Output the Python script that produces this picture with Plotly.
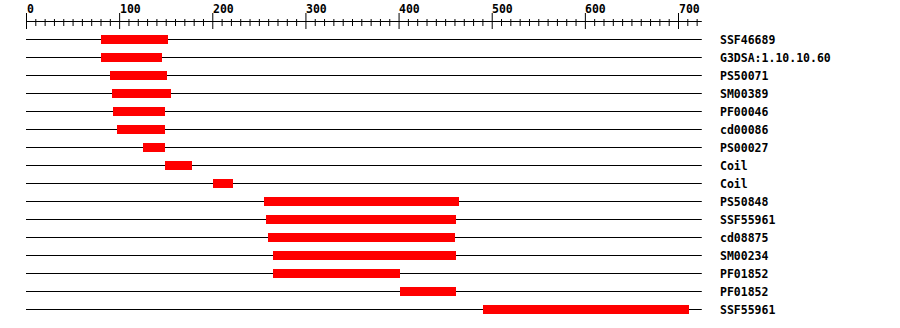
import plotly.graph_objects as go

# ---- data ----
labels = ["SSF46689", "G3DSA:1.10.10.60", "PS50071", "SM00389", "PF00046", "cd00086",
          "PS00027", "Coil", "Coil", "PS50848", "SSF55961", "cd08875", "SM00234",
          "PF01852", "PF01852", "SSF55961"]
starts = [80, 80, 90, 92, 93, 97, 125, 149, 200, 255, 257, 259, 265, 265, 401, 490]
ends = [152, 146, 151, 155, 149, 149, 149, 178, 222, 464, 461, 460, 461, 401, 461, 711]
seq_length = 725
major_ticks = [0, 100, 200, 300, 400, 500, 600, 700]
minor_ticks = list(range(0, 730, 10))
tick_labels = [str(t) for t in major_ticks]

# ---- geometry helpers (pixel mapping) ----
X0_PX, SCALE = 26.5, 652.0 / 700.0
W, H = 900, 328
xr = [-X0_PX / SCALE, (W - X0_PX) / SCALE]
ROW0_PX, ROW_H = 39.5, 18.0
yr = [(H - ROW0_PX) / ROW_H, -ROW0_PX / ROW_H]

def ypx(p):
    return (p - ROW0_PX) / ROW_H

FONT = dict(family="DejaVu Sans Mono", size=11.5, color="black", weight="bold")

fig = go.Figure()

# baselines (below the bars)
shapes = []
for i in range(len(labels)):
    shapes.append(dict(type="line", xref="x", yref="y", x0=0 - 0.5 / SCALE, x1=seq_length,
                       y0=i, y1=i, line=dict(color="black", width=1), layer="below"))

# domain bars
fig.add_trace(go.Bar(y=list(range(len(labels))), x=[e - s for s, e in zip(starts, ends)],
                     base=starts, orientation="h", width=9 / ROW_H,
                     marker=dict(color="#ff0000", line=dict(width=0)),
                     hoverinfo="skip"))

# ruler
rx, ry = [0 - 0.5 / SCALE, seq_length, None], [ypx(21.5), ypx(21.5), None]
for t in minor_ticks:
    if t in major_ticks:
        rx += [t, t, None]
        ry += [ypx(13), ypx(29), None]
    else:
        rx += [t, t, None]
        ry += [ypx(19), ypx(26), None]
fig.add_trace(go.Scatter(x=rx, y=ry, mode="lines", line=dict(color="black", width=1),
                         hoverinfo="skip"))

annotations = []
for t, lab in zip(major_ticks, tick_labels):
    annotations.append(dict(x=t, y=ypx(8.5), xref="x", yref="y", text=lab,
                            showarrow=False, xanchor="left", yanchor="middle",
                            xshift=-2, font=FONT))
for i, lab in enumerate(labels):
    annotations.append(dict(x=(720 - X0_PX) / SCALE, y=i, xref="x", yref="y", text=lab,
                            showarrow=False, xanchor="left", yanchor="middle",
                            xshift=-2, font=FONT))

fig.update_layout(
    width=W, height=H, margin=dict(l=0, r=0, t=0, b=0),
    paper_bgcolor="white", plot_bgcolor="white", showlegend=False,
    xaxis=dict(range=xr, visible=False, fixedrange=True),
    yaxis=dict(range=yr, visible=False, fixedrange=True),
    annotations=annotations, shapes=shapes, bargap=0,
)
fig.write_html("out.html")
